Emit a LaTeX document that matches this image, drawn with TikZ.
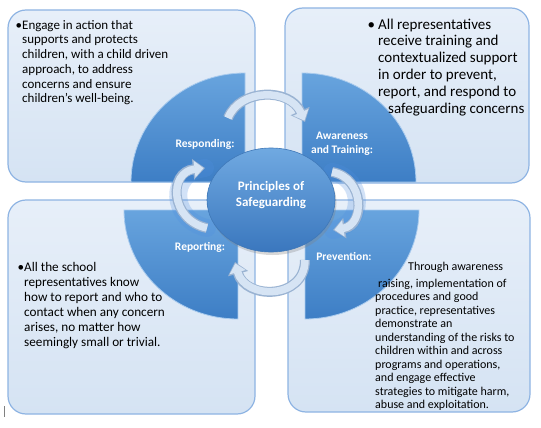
\documentclass[tikz,border=0pt]{standalone}
\usepackage{fontspec}
\setmainfont{Carlito}
\usetikzlibrary{arrows.meta, shapes.geometric, shadows}
\definecolor{boxline}{HTML}{8EB4E3}
\definecolor{boxtop}{HTML}{E7EFF9}
\definecolor{boxbottom}{HTML}{D5E3F3}
\definecolor{sectortop}{HTML}{68A4DE}
\definecolor{sectorbottom}{HTML}{3D7EC5}
\definecolor{sectoredge}{HTML}{A9CBEE}
\definecolor{arrowfill}{HTML}{D6E4F4}
\definecolor{arrowedge}{HTML}{9AB3D2}
\definecolor{glowblue}{HTML}{4F8FE0}
\definecolor{coretop}{HTML}{70A9E1}
\definecolor{corebottom}{HTML}{3A77BE}
\definecolor{coreedge}{HTML}{3F78B8}

\begin{document}
\begin{tikzpicture}[x=1pt, y=-1pt,
		panel/.style={draw=boxline, line width=1.2pt, rounded corners=18pt, top color=boxtop, bottom color=boxbottom},
		sector/.style={draw=sectoredge, line width=0.8pt, top color=sectortop, bottom color=sectorbottom},
		tag/.style={text=white, font=\fontsize{11.5}{14}\selectfont\bfseries, align=center},
		body/.style={anchor=north west, inner sep=0pt, align=left, text=black},
		core/.style={ellipse, minimum width=128pt, minimum height=104pt, draw=coreedge, line width=0.6pt,
				top color=coretop, bottom color=corebottom,
				drop shadow={opacity=0.3, shadow xshift=1.5pt, shadow yshift=-3pt}},
		cycedge/.style={draw=arrowedge, line width=10pt, -{Triangle[width=20pt,length=12pt]}},
		cycfill/.style={draw=arrowfill, line width=7.5pt, shorten >=1.5pt, -{Triangle[width=16pt,length=9pt]}},
		glow/.style={draw=glowblue, line width=18pt, opacity=0.25, line cap=round}
	]
	\useasboundingbox (0,0) rectangle (541,428);
	\fill[white] (0,0) rectangle (541,428);
	% Panels
	\draw[panel] (8,10) rectangle (255,182);
	\draw[panel] (285,8) rectangle (529,183);
	\draw[panel] (8,200) rectangle (255,414);
	\draw[panel] (288,200) rectangle (530,412);
	% Quarter sectors
	\foreach \cx/\cy/\sa in {245/182/180, 302/182/270, 238/210/90, 305/210/0} {
			\draw[sector] (\cx,\cy) -- ++(\sa:114 and 109)
				arc[start angle=\sa, end angle=\sa+90, x radius=114, y radius=109] -- cycle;
		}
	% Panel texts
	\node[body, font=\fontsize{13}{14.7}\selectfont] (resptext) at (22,20)
		{\llap{•}Engage in action that\\supports and protects\\children, with a child driven\\approach, to address\\concerns and ensure\\children’s well-being.};
	\node[body, font=\fontsize{15}{16.8}\selectfont] (awaretext) at (378,18.5)
		{\llap{•\hspace{3pt}}All representatives\\receive training and\\contextualized support\\in order to prevent,\\report, and respond to\\\hspace*{10pt}safeguarding concerns};
	\node[body, font=\fontsize{13.2}{15}\selectfont] (reporttext) at (24,262)
		{\llap{•}All the school\\representatives know\\how to report and who to\\contact when any concern\\arises, no matter how\\seemingly small or trivial.};
	\node[body, font=\fontsize{12}{13.5}\selectfont] (prevtext) at (375,262)
		{\hspace*{33pt}Through awareness\\[3pt]\hspace*{3pt}raising, implementation of\\procedures and good\\practice, representatives\\demonstrate an\\understanding of the risks to\\children within and across\\programs and operations,\\and engage effective\\strategies to mitigate harm,\\abuse and exploitation.};
	% Sector labels
	\node[tag] (resp) at (205,144) {Responding:};
	\node[tag] (aware) at (342,144) {Awareness\\and Training:};
	\node[tag] (report) at (200,247) {Reporting:};
	\node[tag] (prev) at (344,256) {Prevention:};
	% Cycle arrows
	\coordinate (topA) at (228,118);
	\coordinate (topB) at (305,122);
	\coordinate (rightA) at (332,172);
	\coordinate (rightB) at (333,230);
	\coordinate (botA) at (305,260);
	\coordinate (botB) at (235,262);
	\coordinate (leftA) at (207,228);
	\coordinate (leftB) at (205,168);
	\draw[glow] (rightA) .. controls +(33,6) and +(32,-5) .. (rightB);
	\draw[glow] (leftA) .. controls +(-37,-8) and +(-37,4) .. (leftB);
	\draw[cycedge] (topA) .. controls +(12,-30) and +(-15,-34) .. (topB);
	\draw[cycfill] (topA) .. controls +(12,-30) and +(-15,-34) .. (topB);
	\draw[cycedge] (rightA) .. controls +(33,6) and +(32,-5) .. (rightB);
	\draw[cycfill] (rightA) .. controls +(33,6) and +(32,-5) .. (rightB);
	\draw[cycedge] (botA) .. controls +(0,40) and +(10,38) .. (botB);
	\draw[cycfill] (botA) .. controls +(0,40) and +(10,38) .. (botB);
	\draw[cycedge] (leftA) .. controls +(-37,-8) and +(-37,4) .. (leftB);
	\draw[cycfill] (leftA) .. controls +(-37,-8) and +(-37,4) .. (leftB);
	% Centre
	\node[core] (core) at (271,200) {};
	\node[text=white, font=\fontsize{13}{16}\selectfont\bfseries, align=center] (coretitle)
		at ([yshift=5pt]core.center) {Principles of\\Safeguarding};
	% Cursor mark
	\draw[gray, line width=1pt] (4,406) -- (4,417);
\end{tikzpicture}
\end{document}
